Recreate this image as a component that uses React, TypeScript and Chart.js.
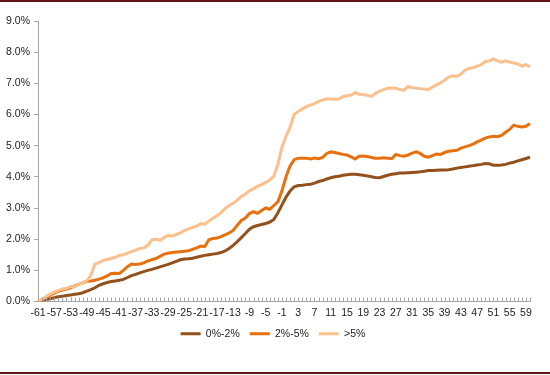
import React, { useEffect, useRef } from "react";
import { Chart, registerables } from "chart.js";

Chart.register(...registerables);

// Categories: -61 .. 60
const categories: number[] = Array.from({ length: 122 }, (_, i) => i - 61);

const yTicks = [0, 1, 2, 3, 4, 5, 6, 7, 8, 9];

const seriesNames = ["0%-2%", "2%-5%", ">5%"];

const low: number[] = [
  0, 0.03, 0.06, 0.09, 0.12, 0.15, 0.17, 0.19, 0.21, 0.23,
  0.25, 0.28, 0.33, 0.38, 0.44, 0.52, 0.57, 0.61, 0.64, 0.66,
  0.68, 0.71, 0.77, 0.83, 0.87, 0.92, 0.96, 1.0, 1.03, 1.07,
  1.11, 1.15, 1.19, 1.24, 1.29, 1.34, 1.36, 1.37, 1.39, 1.42,
  1.45, 1.48, 1.5, 1.52, 1.54, 1.57, 1.62, 1.7, 1.8, 1.92,
  2.05, 2.18, 2.32, 2.4, 2.44, 2.47, 2.5, 2.55, 2.63, 2.85,
  3.1, 3.35, 3.55, 3.68, 3.72, 3.73, 3.75, 3.76, 3.8, 3.85,
  3.88, 3.93, 3.97, 4.0, 4.02, 4.05, 4.07, 4.08, 4.08, 4.07,
  4.05, 4.03, 4.0, 3.98, 3.97, 4.01, 4.05, 4.08, 4.1, 4.12,
  4.12, 4.13, 4.14, 4.15, 4.16, 4.18, 4.2, 4.2, 4.21, 4.22,
  4.22, 4.23, 4.25, 4.28, 4.3, 4.32, 4.34, 4.36, 4.38, 4.4,
  4.43, 4.42, 4.37, 4.37, 4.38, 4.4, 4.44, 4.47, 4.51, 4.55,
  4.59, 4.63,
];

const mid: number[] = [
  0, 0.06, 0.12, 0.2, 0.27, 0.33, 0.37, 0.4, 0.44, 0.5,
  0.55, 0.6, 0.65, 0.66, 0.68, 0.72, 0.76, 0.82, 0.9, 0.91,
  0.9, 1.0, 1.12, 1.2, 1.19, 1.2, 1.24, 1.3, 1.34, 1.38,
  1.45, 1.52, 1.55, 1.57, 1.59, 1.6, 1.61, 1.63, 1.67, 1.72,
  1.78, 1.76, 1.98, 2.02, 2.04, 2.08, 2.14, 2.2, 2.28, 2.45,
  2.6, 2.68, 2.82, 2.88, 2.83, 2.92, 3.0, 2.96, 3.08, 3.2,
  3.55, 4.0, 4.35, 4.55, 4.6, 4.6, 4.6, 4.57, 4.6, 4.58,
  4.62, 4.75, 4.8, 4.78, 4.75, 4.72, 4.7, 4.64, 4.57, 4.66,
  4.67, 4.65, 4.62, 4.6, 4.6, 4.61, 4.6, 4.58, 4.72, 4.68,
  4.66, 4.7, 4.76, 4.8, 4.75, 4.66, 4.63, 4.68, 4.73, 4.72,
  4.78, 4.82, 4.84, 4.85, 4.92, 4.96, 5.0, 5.05, 5.12, 5.18,
  5.24, 5.28, 5.3, 5.29, 5.33, 5.43, 5.52, 5.66, 5.62, 5.6,
  5.62, 5.71,
];

const high: number[] = [
  0, 0.08, 0.16, 0.24, 0.3, 0.36, 0.4, 0.42, 0.48, 0.47,
  0.55, 0.6, 0.66, 0.85, 1.2, 1.25, 1.32, 1.35, 1.38, 1.42,
  1.48, 1.5, 1.55, 1.6, 1.65, 1.7, 1.72, 1.8, 1.98, 2.0,
  1.96, 2.05, 2.12, 2.1, 2.15, 2.2, 2.28, 2.33, 2.38, 2.42,
  2.5, 2.48, 2.58, 2.67, 2.75, 2.85, 2.98, 3.08, 3.15, 3.25,
  3.37, 3.45, 3.55, 3.62, 3.7, 3.75, 3.82, 3.9, 4.02, 4.4,
  4.95, 5.3, 5.6, 6.0, 6.1, 6.18, 6.25, 6.3, 6.35, 6.42,
  6.47, 6.5, 6.5, 6.49, 6.5, 6.57, 6.6, 6.62, 6.7, 6.65,
  6.63, 6.62, 6.58, 6.68, 6.75, 6.8, 6.84, 6.85, 6.84, 6.8,
  6.78, 6.9, 6.86, 6.85, 6.83, 6.82, 6.8, 6.88, 6.95, 7.02,
  7.1, 7.2, 7.24, 7.22, 7.3, 7.42, 7.48, 7.5, 7.55, 7.6,
  7.7, 7.72, 7.78, 7.72, 7.68, 7.72, 7.68, 7.65, 7.62, 7.55,
  7.6, 7.53,
];

const colors = ["#93501B", "#E8700F", "#FBC08C"];
const FONT = "'Liberation Sans', Arial, sans-serif";
const FS = 10.5;

const innerTicks = {
  id: "innerTicks",
  afterLayout(chart: any) {
    if (chart.legend) {
      chart.legend.left += 8;
      chart.legend.right += 8;
    }
  },
  afterDatasetsDraw(chart: any) {
    const xs = chart.scales.x;
    const bottom = chart.chartArea.bottom;
    const ctx = chart.ctx;
    ctx.save();
    ctx.strokeStyle = "#a6a6a6";
    ctx.lineWidth = 1;
    ctx.beginPath();
    for (let i = 1; i < categories.length; i++) {
      const x = Math.round(xs.getPixelForValue(i)) + 0.5;
      ctx.moveTo(x, bottom);
      ctx.lineTo(x, bottom - 4);
    }
    ctx.stroke();
    ctx.restore();
  },
};

export default function App() {
  const ref = useRef<HTMLCanvasElement | null>(null);

  useEffect(() => {
    document.body.style.margin = "0";
    if (!ref.current) return;
    const data = [low, mid, high];
    const chart = new Chart(ref.current, {
      type: "line",
      data: {
        labels: categories.map(String),
        datasets: seriesNames.map((name, i) => ({
          label: name,
          data: data[i],
          borderColor: colors[i],
          backgroundColor: colors[i],
          borderWidth: 3,
          pointRadius: 0,
          tension: 0,
          fill: false,
          order: 3 - i,
        })),
      },
      options: {
        animation: false,
        responsive: false,
        devicePixelRatio: 1,
        layout: { padding: { top: 21, right: 20, bottom: 26, left: 0 } },
        plugins: {
          tooltip: { enabled: false },
          legend: {
            position: "bottom",
            labels: {
              usePointStyle: true,
              pointStyle: "line",
              pointStyleWidth: 20,
              boxWidth: 20,
              padding: 10,
              color: "#222",
              font: { family: FONT, size: FS },
              sort: (a: any, b: any) => a.datasetIndex - b.datasetIndex,
            },
          },
        },
        scales: {
          x: {
            type: "category",
            offset: false,
            grid: { display: false, drawTicks: false },
            border: { display: true, color: "#a6a6a6", width: 1 },
            ticks: {
              autoSkip: false,
              maxRotation: 0,
              minRotation: 0,
              padding: 5,
              color: "#222",
              font: { family: FONT, size: FS },
              callback: (_v: any, idx: number) =>
                idx % 4 === 0 ? String(categories[idx]) : "",
            },
            afterFit: (s: any) => {
              s.height = 17;
            },
          },
          y: {
            min: 0,
            max: 9,
            afterBuildTicks: (s: any) => {
              s.ticks = yTicks.map((v) => ({ value: v }));
            },
            grid: {
              drawOnChartArea: false,
              drawTicks: true,
              tickLength: 4,
              color: "#a6a6a6",
            },
            border: { display: true, color: "#a6a6a6", width: 1 },
            ticks: {
              padding: 4,
              color: "#222",
              font: { family: FONT, size: FS },
              callback: (v: any) => Number(v).toFixed(1) + "%",
            },
            afterFit: (s: any) => {
              s.width = 38;
            },
          },
        },
      },
      plugins: [innerTicks],
    });
    return () => chart.destroy();
  }, []);

  return (
    <div style={{ position: "relative", width: 550, height: 375, background: "#fff" }}>
      <canvas ref={ref} width={550} height={375} style={{ display: "block" }} />
      <div style={{ position: "absolute", left: 0, top: 0, width: 550, height: 2, background: "#5e1616" }} />
      <div style={{ position: "absolute", left: 0, top: 372, width: 550, height: 2, background: "#5e1616" }} />
    </div>
  );
}
